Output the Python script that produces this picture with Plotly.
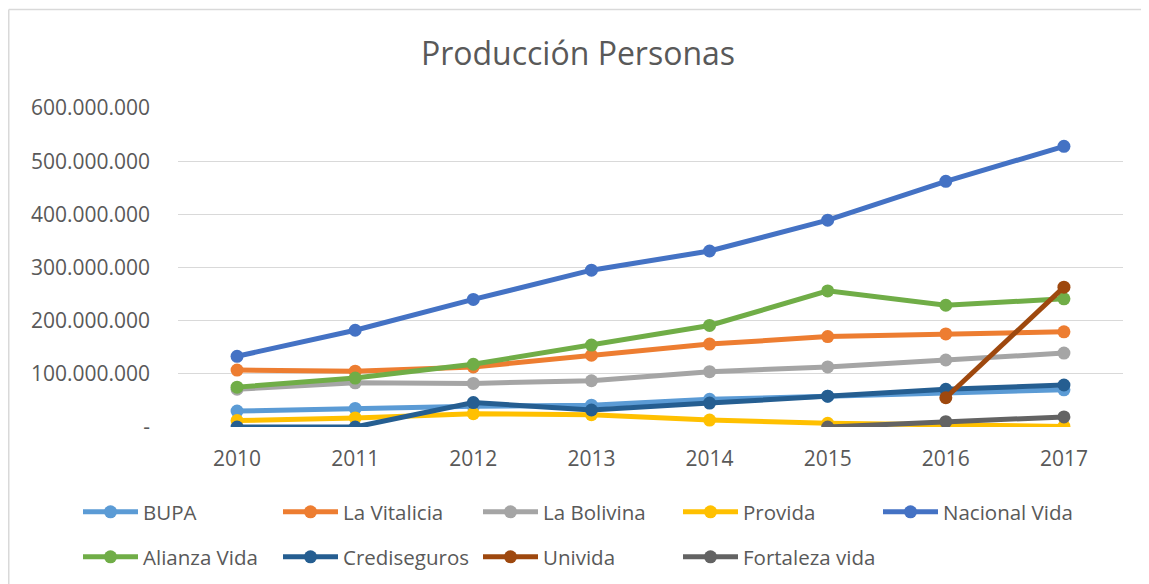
import plotly.graph_objects as go

years = ["2010", "2011", "2012", "2013", "2014", "2015", "2016", "2017"]

bupa = [30e6, 35e6, 39e6, 41e6, 52e6, 58e6, 64e6, 70e6]
la_vitalicia = [107e6, 105e6, 113e6, 135e6, 156e6, 170e6, 175e6, 179e6]
la_bolivina = [71e6, 83e6, 82e6, 87e6, 104e6, 113e6, 126e6, 139e6]
provida = [12e6, 17e6, 25e6, 23e6, 13e6, 7e6, 4e6, 1e6]
nacional_vida = [133e6, 182e6, 240e6, 295e6, 331e6, 389e6, 462e6, 528e6]
alianza_vida = [75e6, 92e6, 118e6, 154e6, 191e6, 256e6, 229e6, 241e6]
crediseguros = [0, 0, 46e6, 32e6, 45e6, 58e6, 71e6, 79e6]
univida = [None, None, None, None, None, None, 55e6, 263e6]
fortaleza_vida = [None, None, None, None, None, 0, 10e6, 19e6]

tick_vals = [0, 100e6, 200e6, 300e6, 400e6, 500e6, 600e6]
tick_text = ["-", "100.000.000", "200.000.000", "300.000.000", "400.000.000", "500.000.000", "600.000.000"]

series_names = ["BUPA", "La Vitalicia", "La Bolivina", "Provida", "Nacional Vida",
                "Alianza Vida", "Crediseguros", "Univida", "Fortaleza vida"]
series_values = [bupa, la_vitalicia, la_bolivina, provida, nacional_vida,
                 alianza_vida, crediseguros, univida, fortaleza_vida]
series_colors = ["#5B9BD5", "#ED7D31", "#A5A5A5", "#FFC000", "#4472C4",
                 "#70AD47", "#255E91", "#9E480E", "#636363"]

FONT = "Open Sans, Segoe UI, sans-serif"
TXT = "#595959"

# the page body adds an 8px margin; figure coordinates = screen - 8
W, H = 1141, 576
PL, PR, PT, PB = 170, 1115, 100, 419

fig = go.Figure()
legend_layouts = {}
for i, (name, vals, color) in enumerate(zip(series_names, series_values, series_colors)):
    key = "legend" if i == 0 else f"legend{i + 1}"
    fig.add_trace(go.Scatter(
        x=years, y=vals, name=name, mode="lines+markers",
        line=dict(color=color, width=5),
        marker=dict(color=color, size=13),
        legend=key,
    ))
    col, row = i % 5, i // 5
    legend_layouts[key] = dict(
        orientation="h", xref="container", yref="container",
        x=(70 + 200 * col) / W, y=1 - (504 + 45 * row) / H,
        xanchor="left", yanchor="middle",
        font=dict(family=FONT, size=20.5, color=TXT),
        itemwidth=55, bgcolor="rgba(0,0,0,0)",
    )

pw, ph = PR - PL, PB - PT
border = dict(color="#D9D9D9", width=1.5)
fig.update_layout(
    width=W, height=H,
    margin=dict(l=PL, r=W - PR, t=PT, b=H - PB, pad=0, autoexpand=False),
    paper_bgcolor="white", plot_bgcolor="white",
    font=dict(family=FONT, color=TXT),
    title=dict(text="Producción Personas", xref="container", yref="container",
               x=570 / W, xanchor="center", y=1 - 46 / H, yanchor="middle",
               font=dict(family=FONT, size=32, color=TXT)),
    xaxis=dict(type="category", range=[-0.5, 7.5], showgrid=False,
               showline=False, zeroline=False, ticks="",
               tickfont=dict(family=FONT, size=21, color=TXT), ticklabelstandoff=17),
    yaxis=dict(range=[0, 600e6], tickvals=tick_vals, ticktext=tick_text,
               showgrid=True, gridcolor="#D9D9D9", gridwidth=1,
               zeroline=False, showline=False, ticks="",
               tickfont=dict(family=FONT, size=21, color=TXT), ticklabelstandoff=27),
    showlegend=True,
    shapes=[
        dict(type="line", xref="paper", yref="paper",
             x0=(0.75 - PL) / pw, x1=(W + 5 - PL) / pw,
             y0=(PB - 1.5) / ph, y1=(PB - 1.5) / ph, line=border, layer="below"),
        dict(type="line", xref="paper", yref="paper",
             x0=(0.75 - PL) / pw, x1=(0.75 - PL) / pw,
             y0=(PB - 1.5) / ph, y1=(PB - H - 5) / ph, line=border, layer="below"),
    ],
    **legend_layouts,
)

fig.write_html("out.html")
